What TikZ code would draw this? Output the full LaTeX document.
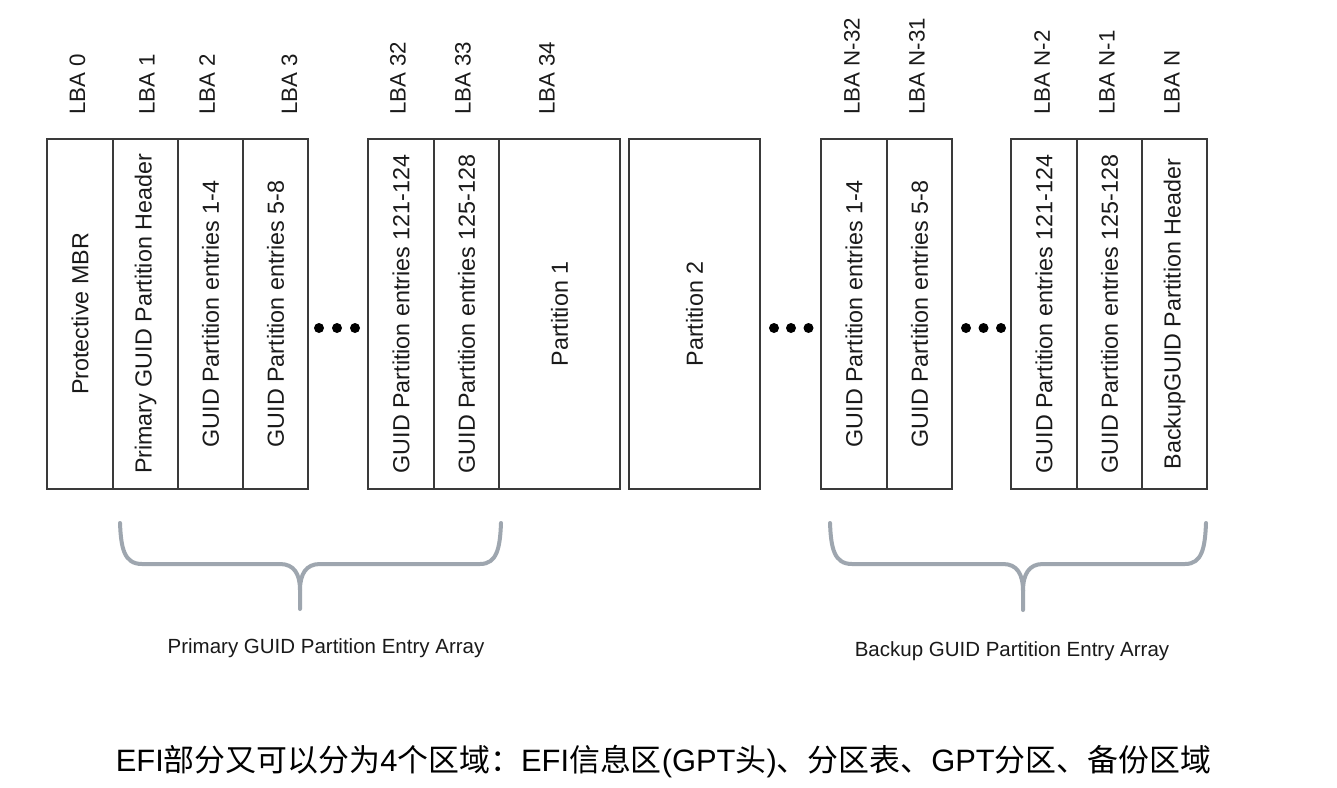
\documentclass[tikz,border=0pt]{standalone}
\usepackage{fontspec}
\usepackage{graphicx}
\setmainfont{Liberation Sans}
\newfontfamily\cjk{Noto Sans CJK SC}
\definecolor{lineclr}{HTML}{3A3A3A}
\definecolor{txtclr}{HTML}{1A1A1A}
\definecolor{braceclr}{HTML}{9EA6AF}
\begin{document}
\begin{tikzpicture}[x=1pt,y=-1pt,
  cell/.style={draw=lineclr, line width=1.4pt, minimum height=350pt, inner sep=0pt,
     text=txtclr, font=\fontsize{23.3pt}{27pt}\selectfont},
  lba/.style={rotate=90, anchor=west, inner sep=0pt, text=txtclr,
     font=\fontsize{22.3pt}{26pt}\selectfont},
  dotnode/.style={circle, fill=black, inner sep=0pt, minimum size=10pt},
  bracepath/.style={draw=braceclr, line width=4pt, line cap=round, line join=round},
  arraylbl/.style={text=txtclr, inner sep=0pt, font=\fontsize{20.5pt}{24pt}\selectfont}
]
\fill[white] (0,0) rectangle (1337,787);
\useasboundingbox (0,0) rectangle (1337,787);

% cells
\node[cell, minimum width=66pt]  (mbr)  at (80,314)   {\rotatebox{90}{Protective MBR}};
\node[cell, minimum width=65pt]  (pgh)  at (145.5,314) {\rotatebox{90}{Primary GUID Partition Header}};
\node[cell, minimum width=65pt]  (e14)  at (210.5,314) {\rotatebox{90}{GUID Partition entries 1-4}};
\node[cell, minimum width=65pt]  (e58)  at (275.5,314) {\rotatebox{90}{GUID Partition entries 5-8}};
\node[cell, minimum width=66pt]  (e121) at (401,314)  {\rotatebox{90}{GUID Partition entries 121-124}};
\node[cell, minimum width=65pt]  (e125) at (466.5,314) {\rotatebox{90}{GUID Partition entries 125-128}};
\node[cell, minimum width=121pt] (p1)   at (559.5,314) {\rotatebox{90}{Partition 1}};
\node[cell, minimum width=131pt] (p2)   at (694.5,314) {\rotatebox{90}{Partition 2}};
\node[cell, minimum width=66pt]  (b14)  at (854,314)  {\rotatebox{90}{GUID Partition entries 1-4}};
\node[cell, minimum width=65pt]  (b58)  at (919.5,314) {\rotatebox{90}{GUID Partition entries 5-8}};
\node[cell, minimum width=66pt]  (b121) at (1044,314) {\rotatebox{90}{GUID Partition entries 121-124}};
\node[cell, minimum width=65pt]  (b125) at (1109.5,314) {\rotatebox{90}{GUID Partition entries 125-128}};
\node[cell, minimum width=65pt]  (bh)   at (1174.5,314) {\rotatebox{90}{BackupGUID Partition Header}};

% LBA labels
\node[lba] (l0)   at (77.5,115)  {LBA 0};
\node[lba] (l1)   at (147,115)   {LBA 1};
\node[lba] (l2)   at (207,115)   {LBA 2};
\node[lba] (l3)   at (289.5,115) {LBA 3};
\node[lba] (l32)  at (398,115)   {LBA 32};
\node[lba] (l33)  at (463,115)   {LBA 33};
\node[lba] (l34)  at (547,115)   {LBA 34};
\node[lba] (ln32) at (852,115)   {LBA N-32};
\node[lba] (ln31) at (917,115)   {LBA N-31};
\node[lba] (ln2)  at (1042,115)  {LBA N-2};
\node[lba] (ln1)  at (1107,115)  {LBA N-1};
\node[lba] (ln)   at (1172,115)  {LBA N};

% ellipsis dots
\node[dotnode] (d1a) at (319,328) {};
\node[dotnode] (d1b) at (337,328) {};
\node[dotnode] (d1c) at (355,328) {};
\node[dotnode] (d2a) at (774,328) {};
\node[dotnode] (d2b) at (791,328) {};
\node[dotnode] (d2c) at (808.5,328) {};
\node[dotnode] (d3a) at (966,328) {};
\node[dotnode] (d3b) at (983.5,328) {};
\node[dotnode] (d3c) at (1001,328) {};

% braces
\coordinate (pa) at (120,523);
\coordinate (pb) at (501,523);
\coordinate (pt) at (300,609);
\draw[bracepath] (pa) .. controls (121,548) and (124,564) .. (142,564) -- (280,564)
   .. controls (294,564) and (300,574) .. (300,590) -- (pt);
\draw[bracepath] (pb) .. controls (500,548) and (497,564) .. (480,564) -- (320,564)
   .. controls (306,564) and (300,574) .. (300,590);
\coordinate (ba) at (830,523);
\coordinate (bb) at (1206,523);
\coordinate (bt) at (1023,610);
\draw[bracepath] (ba) .. controls (831,548) and (834,564) .. (852,564) -- (1003,564)
   .. controls (1017,564) and (1023,574) .. (1023,591) -- (bt);
\draw[bracepath] (bb) .. controls (1205,548) and (1202,564) .. (1185,564) -- (1043,564)
   .. controls (1029,564) and (1023,574) .. (1023,591);

% array labels
\node[arraylbl] (pal) at (326,648) {Primary GUID Partition Entry Array};
\node[arraylbl] (bal) at (1012,651) {Backup GUID Partition Entry Array};

% caption
\node[inner sep=0pt, text=black, font=\fontsize{30.9pt}{36pt}\selectfont] (cap) at (663.5,762)
  {EFI{\cjk 部分又可以分为}4{\cjk 个区域：}EFI{\cjk 信息区}(GPT{\cjk 头}){\cjk 、分区表、}GPT{\cjk 分区、备份区域}};
\end{tikzpicture}
\end{document}
